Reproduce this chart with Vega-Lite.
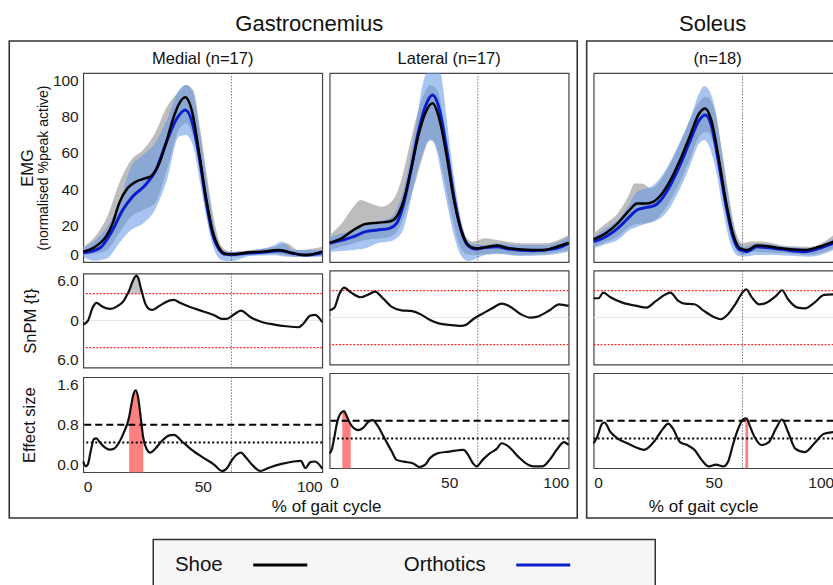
{
"$schema":"https://vega.github.io/schema/vega-lite/v6.json",
"background":"white",
"padding":{"left":9.25,"top":12,"right":0,"bottom":0},
"config":{"font":"Liberation Sans","view":{"stroke":"#444","strokeWidth":1.2,"fill":"white"},
"axis":{"labelFontSize":15.5,"labelColor":"#222","titleColor":"#111","titleFontWeight":"normal","ticks":false,"tickSize":0,"domain":false,"grid":false},
"title":{"fontWeight":"normal","color":"#111"}},
"datasets":{
"mean":[
{"m":"Medial","c":"Shoe","x":0,"y":5.7},{"m":"Medial","c":"Shoe","x":5,"y":8.4},{"m":"Medial","c":"Shoe","x":9.5,"y":13.9},{"m":"Medial","c":"Shoe","x":12.3,"y":21.2},{"m":"Medial","c":"Shoe","x":15,"y":32.2},{"m":"Medial","c":"Shoe","x":18.5,"y":40.5},{"m":"Medial","c":"Shoe","x":22,"y":44.1},{"m":"Medial","c":"Shoe","x":26,"y":46},{"m":"Medial","c":"Shoe","x":28.5,"y":47.3},{"m":"Medial","c":"Shoe","x":31.8,"y":54.2},{"m":"Medial","c":"Shoe","x":34.6,"y":65.2},{"m":"Medial","c":"Shoe","x":37.4,"y":78},{"m":"Medial","c":"Shoe","x":40.2,"y":87.2},{"m":"Medial","c":"Shoe","x":42.7,"y":90.5},{"m":"Medial","c":"Shoe","x":45.7,"y":81.7},{"m":"Medial","c":"Shoe","x":48.5,"y":59.7},{"m":"Medial","c":"Shoe","x":51.3,"y":35.9},{"m":"Medial","c":"Shoe","x":54,"y":17.6},{"m":"Medial","c":"Shoe","x":57,"y":7.5},{"m":"Medial","c":"Shoe","x":59.7,"y":4.4},{"m":"Medial","c":"Shoe","x":62.5,"y":4.2},{"m":"Medial","c":"Shoe","x":68,"y":5.1},{"m":"Medial","c":"Shoe","x":75,"y":5.7},{"m":"Medial","c":"Shoe","x":82,"y":6.6},{"m":"Medial","c":"Shoe","x":87.6,"y":4.8},{"m":"Medial","c":"Shoe","x":93,"y":3.8},{"m":"Medial","c":"Shoe","x":100,"y":5.7},
{"m":"Medial","c":"Orthotics","x":0,"y":5.1},{"m":"Medial","c":"Orthotics","x":6.7,"y":7.5},{"m":"Medial","c":"Orthotics","x":12.3,"y":17.6},{"m":"Medial","c":"Orthotics","x":16.5,"y":28.6},{"m":"Medial","c":"Orthotics","x":20.6,"y":35.9},{"m":"Medial","c":"Orthotics","x":26,"y":42.3},{"m":"Medial","c":"Orthotics","x":30.4,"y":50.5},{"m":"Medial","c":"Orthotics","x":34.6,"y":65.2},{"m":"Medial","c":"Orthotics","x":38.8,"y":78},{"m":"Medial","c":"Orthotics","x":42.7,"y":83.5},{"m":"Medial","c":"Orthotics","x":45.7,"y":76.2},{"m":"Medial","c":"Orthotics","x":48.5,"y":57.9},{"m":"Medial","c":"Orthotics","x":51.3,"y":34.1},{"m":"Medial","c":"Orthotics","x":54,"y":15.8},{"m":"Medial","c":"Orthotics","x":57,"y":6.6},{"m":"Medial","c":"Orthotics","x":59.7,"y":4.2},{"m":"Medial","c":"Orthotics","x":62.5,"y":4.2},{"m":"Medial","c":"Orthotics","x":68,"y":4.8},{"m":"Medial","c":"Orthotics","x":75,"y":5.3},{"m":"Medial","c":"Orthotics","x":82,"y":6.2},{"m":"Medial","c":"Orthotics","x":87.6,"y":4.8},{"m":"Medial","c":"Orthotics","x":93,"y":3.8},{"m":"Medial","c":"Orthotics","x":100,"y":5.1},
{"m":"Lateral","c":"Shoe","x":0,"y":10.6},{"m":"Lateral","c":"Shoe","x":5,"y":13},{"m":"Lateral","c":"Shoe","x":10,"y":17.6},{"m":"Lateral","c":"Shoe","x":15,"y":20.9},{"m":"Lateral","c":"Shoe","x":20,"y":21.6},{"m":"Lateral","c":"Shoe","x":25,"y":22.2},{"m":"Lateral","c":"Shoe","x":28,"y":24.9},{"m":"Lateral","c":"Shoe","x":31,"y":34.1},{"m":"Lateral","c":"Shoe","x":34,"y":50.5},{"m":"Lateral","c":"Shoe","x":37,"y":68.9},{"m":"Lateral","c":"Shoe","x":40,"y":81.7},{"m":"Lateral","c":"Shoe","x":43,"y":87.2},{"m":"Lateral","c":"Shoe","x":46,"y":78},{"m":"Lateral","c":"Shoe","x":49,"y":57.9},{"m":"Lateral","c":"Shoe","x":52,"y":34.1},{"m":"Lateral","c":"Shoe","x":55,"y":17.6},{"m":"Lateral","c":"Shoe","x":58,"y":9.3},{"m":"Lateral","c":"Shoe","x":61,"y":7.5},{"m":"Lateral","c":"Shoe","x":65,"y":8.1},{"m":"Lateral","c":"Shoe","x":70,"y":9},{"m":"Lateral","c":"Shoe","x":75,"y":7.5},{"m":"Lateral","c":"Shoe","x":85,"y":6.6},{"m":"Lateral","c":"Shoe","x":90,"y":6.6},{"m":"Lateral","c":"Shoe","x":95,"y":8.4},{"m":"Lateral","c":"Shoe","x":100,"y":10.6},
{"m":"Lateral","c":"Orthotics","x":0,"y":10.3},{"m":"Lateral","c":"Orthotics","x":10,"y":13.9},{"m":"Lateral","c":"Orthotics","x":15,"y":16.7},{"m":"Lateral","c":"Orthotics","x":20,"y":17.6},{"m":"Lateral","c":"Orthotics","x":25,"y":18.5},{"m":"Lateral","c":"Orthotics","x":28,"y":21.2},{"m":"Lateral","c":"Orthotics","x":31,"y":32.2},{"m":"Lateral","c":"Orthotics","x":34,"y":50.5},{"m":"Lateral","c":"Orthotics","x":37,"y":70.7},{"m":"Lateral","c":"Orthotics","x":40,"y":85.3},{"m":"Lateral","c":"Orthotics","x":43,"y":91.8},{"m":"Lateral","c":"Orthotics","x":46,"y":83.5},{"m":"Lateral","c":"Orthotics","x":49,"y":61.5},{"m":"Lateral","c":"Orthotics","x":52,"y":35.9},{"m":"Lateral","c":"Orthotics","x":55,"y":17.6},{"m":"Lateral","c":"Orthotics","x":58,"y":8.8},{"m":"Lateral","c":"Orthotics","x":61,"y":7.1},{"m":"Lateral","c":"Orthotics","x":65,"y":7.9},{"m":"Lateral","c":"Orthotics","x":70,"y":8.4},{"m":"Lateral","c":"Orthotics","x":75,"y":7.1},{"m":"Lateral","c":"Orthotics","x":85,"y":6.2},{"m":"Lateral","c":"Orthotics","x":95,"y":7.5},{"m":"Lateral","c":"Orthotics","x":100,"y":10.3},
{"m":"Soleus","c":"Shoe","x":0,"y":12.5},{"m":"Soleus","c":"Shoe","x":5,"y":15.8},{"m":"Soleus","c":"Shoe","x":10,"y":21.2},{"m":"Soleus","c":"Shoe","x":15,"y":28.6},{"m":"Soleus","c":"Shoe","x":18,"y":32.2},{"m":"Soleus","c":"Shoe","x":22,"y":32.2},{"m":"Soleus","c":"Shoe","x":25,"y":33.2},{"m":"Soleus","c":"Shoe","x":28,"y":36.8},{"m":"Soleus","c":"Shoe","x":32,"y":45},{"m":"Soleus","c":"Shoe","x":36,"y":56},{"m":"Soleus","c":"Shoe","x":40,"y":68.9},{"m":"Soleus","c":"Shoe","x":44,"y":81.7},{"m":"Soleus","c":"Shoe","x":46.5,"y":84.4},{"m":"Soleus","c":"Shoe","x":49,"y":78},{"m":"Soleus","c":"Shoe","x":52,"y":57.9},{"m":"Soleus","c":"Shoe","x":55,"y":34.1},{"m":"Soleus","c":"Shoe","x":58,"y":15.8},{"m":"Soleus","c":"Shoe","x":61,"y":7.5},{"m":"Soleus","c":"Shoe","x":64,"y":6.6},{"m":"Soleus","c":"Shoe","x":68,"y":9},{"m":"Soleus","c":"Shoe","x":72,"y":8.8},{"m":"Soleus","c":"Shoe","x":78,"y":7.5},{"m":"Soleus","c":"Shoe","x":88,"y":6.6},{"m":"Soleus","c":"Shoe","x":94,"y":8.4},{"m":"Soleus","c":"Shoe","x":100,"y":11.2},
{"m":"Soleus","c":"Orthotics","x":0,"y":11.2},{"m":"Soleus","c":"Orthotics","x":5,"y":13.9},{"m":"Soleus","c":"Orthotics","x":10,"y":18.5},{"m":"Soleus","c":"Orthotics","x":15,"y":24.9},{"m":"Soleus","c":"Orthotics","x":18,"y":28.6},{"m":"Soleus","c":"Orthotics","x":22,"y":30},{"m":"Soleus","c":"Orthotics","x":25,"y":30.8},{"m":"Soleus","c":"Orthotics","x":28,"y":34.1},{"m":"Soleus","c":"Orthotics","x":32,"y":42.3},{"m":"Soleus","c":"Orthotics","x":36,"y":53.3},{"m":"Soleus","c":"Orthotics","x":40,"y":66.1},{"m":"Soleus","c":"Orthotics","x":44,"y":78},{"m":"Soleus","c":"Orthotics","x":46.5,"y":80.8},{"m":"Soleus","c":"Orthotics","x":49,"y":75.3},{"m":"Soleus","c":"Orthotics","x":52,"y":55.1},{"m":"Soleus","c":"Orthotics","x":55,"y":32.2},{"m":"Soleus","c":"Orthotics","x":58,"y":13.9},{"m":"Soleus","c":"Orthotics","x":61,"y":6.6},{"m":"Soleus","c":"Orthotics","x":64,"y":5.7},{"m":"Soleus","c":"Orthotics","x":68,"y":8.4},{"m":"Soleus","c":"Orthotics","x":72,"y":7.9},{"m":"Soleus","c":"Orthotics","x":78,"y":7},{"m":"Soleus","c":"Orthotics","x":88,"y":5.7},{"m":"Soleus","c":"Orthotics","x":94,"y":7.5},{"m":"Soleus","c":"Orthotics","x":100,"y":10.3}
],
"band":[
{"m":"Medial","c":"Shoe","x":0,"lo":3.8,"hi":8.4},{"m":"Medial","c":"Shoe","x":5,"lo":4.5,"hi":14},{"m":"Medial","c":"Shoe","x":10,"lo":6.6,"hi":24.9},{"m":"Medial","c":"Shoe","x":15,"lo":15.8,"hi":43.2},{"m":"Medial","c":"Shoe","x":20,"lo":24.9,"hi":56},{"m":"Medial","c":"Shoe","x":25,"lo":28.6,"hi":61.5},{"m":"Medial","c":"Shoe","x":30,"lo":32.2,"hi":70.7},{"m":"Medial","c":"Shoe","x":35,"lo":50.5,"hi":85.3},{"m":"Medial","c":"Shoe","x":40,"lo":72.5,"hi":93.6},{"m":"Medial","c":"Shoe","x":43,"lo":76.2,"hi":97.3},{"m":"Medial","c":"Shoe","x":46,"lo":68.9,"hi":94.5},{"m":"Medial","c":"Shoe","x":49,"lo":51,"hi":72.5},{"m":"Medial","c":"Shoe","x":52,"lo":30.5,"hi":45},{"m":"Medial","c":"Shoe","x":55,"lo":13.3,"hi":21.2},{"m":"Medial","c":"Shoe","x":58,"lo":5.5,"hi":8.4},{"m":"Medial","c":"Shoe","x":62,"lo":2.8,"hi":5.7},{"m":"Medial","c":"Shoe","x":70,"lo":3.7,"hi":6.6},{"m":"Medial","c":"Shoe","x":80,"lo":4.4,"hi":8.4},{"m":"Medial","c":"Shoe","x":85,"lo":3.6,"hi":10.3},{"m":"Medial","c":"Shoe","x":90,"lo":2.9,"hi":6.6},{"m":"Medial","c":"Shoe","x":100,"lo":3.3,"hi":8.4},
{"m":"Medial","c":"Orthotics","x":0,"lo":2.6,"hi":7.5},{"m":"Medial","c":"Orthotics","x":5,"lo":0.7,"hi":12},{"m":"Medial","c":"Orthotics","x":10,"lo":2,"hi":19.4},{"m":"Medial","c":"Orthotics","x":15,"lo":10.3,"hi":32.2},{"m":"Medial","c":"Orthotics","x":20,"lo":17.6,"hi":52.4},{"m":"Medial","c":"Orthotics","x":25,"lo":21.2,"hi":58.8},{"m":"Medial","c":"Orthotics","x":30,"lo":28.6,"hi":65.2},{"m":"Medial","c":"Orthotics","x":35,"lo":45,"hi":78},{"m":"Medial","c":"Orthotics","x":40,"lo":68.9,"hi":94.5},{"m":"Medial","c":"Orthotics","x":43,"lo":69.8,"hi":97.3},{"m":"Medial","c":"Orthotics","x":46,"lo":63.4,"hi":92.7},{"m":"Medial","c":"Orthotics","x":49,"lo":42.7,"hi":68.9},{"m":"Medial","c":"Orthotics","x":52,"lo":21.2,"hi":41.4},{"m":"Medial","c":"Orthotics","x":55,"lo":6,"hi":17.6},{"m":"Medial","c":"Orthotics","x":58,"lo":1,"hi":6.6},{"m":"Medial","c":"Orthotics","x":62,"lo":0.5,"hi":5.3},{"m":"Medial","c":"Orthotics","x":70,"lo":3.3,"hi":6.2},{"m":"Medial","c":"Orthotics","x":80,"lo":3.7,"hi":9.3},{"m":"Medial","c":"Orthotics","x":83,"lo":3.2,"hi":11.2},{"m":"Medial","c":"Orthotics","x":88,"lo":2.8,"hi":6.6},{"m":"Medial","c":"Orthotics","x":100,"lo":2.9,"hi":6.6},
{"m":"Lateral","c":"Shoe","x":0,"lo":6.6,"hi":14.8},{"m":"Lateral","c":"Shoe","x":5,"lo":8.5,"hi":21.2},{"m":"Lateral","c":"Shoe","x":10,"lo":10.3,"hi":30.4},{"m":"Lateral","c":"Shoe","x":13,"lo":11.5,"hi":34.1},{"m":"Lateral","c":"Shoe","x":17,"lo":12.5,"hi":32.2},{"m":"Lateral","c":"Shoe","x":22,"lo":13,"hi":30.4},{"m":"Lateral","c":"Shoe","x":27,"lo":15,"hi":35},{"m":"Lateral","c":"Shoe","x":30,"lo":21.2,"hi":45},{"m":"Lateral","c":"Shoe","x":33,"lo":32,"hi":61.5},{"m":"Lateral","c":"Shoe","x":36,"lo":44.4,"hi":78},{"m":"Lateral","c":"Shoe","x":39,"lo":58,"hi":90.8},{"m":"Lateral","c":"Shoe","x":42,"lo":67,"hi":97.3},{"m":"Lateral","c":"Shoe","x":45,"lo":62,"hi":94.5},{"m":"Lateral","c":"Shoe","x":48,"lo":45,"hi":76.2},{"m":"Lateral","c":"Shoe","x":51,"lo":26,"hi":50.5},{"m":"Lateral","c":"Shoe","x":54,"lo":10.3,"hi":26.7},{"m":"Lateral","c":"Shoe","x":57,"lo":4.5,"hi":13.9},{"m":"Lateral","c":"Shoe","x":60,"lo":3.8,"hi":11.2},{"m":"Lateral","c":"Shoe","x":65,"lo":4.2,"hi":13},{"m":"Lateral","c":"Shoe","x":70,"lo":4.8,"hi":12.1},{"m":"Lateral","c":"Shoe","x":80,"lo":3.8,"hi":10.3},{"m":"Lateral","c":"Shoe","x":90,"lo":4.4,"hi":10.3},{"m":"Lateral","c":"Shoe","x":100,"lo":6.6,"hi":14.8},
{"m":"Lateral","c":"Orthotics","x":0,"lo":5.7,"hi":13.9},{"m":"Lateral","c":"Orthotics","x":10,"lo":6.6,"hi":17.6},{"m":"Lateral","c":"Orthotics","x":15,"lo":7.5,"hi":20},{"m":"Lateral","c":"Orthotics","x":20,"lo":10.3,"hi":22.2},{"m":"Lateral","c":"Orthotics","x":25,"lo":11.2,"hi":24},{"m":"Lateral","c":"Orthotics","x":30,"lo":15.8,"hi":35.9},{"m":"Lateral","c":"Orthotics","x":33,"lo":28.6,"hi":52.4},{"m":"Lateral","c":"Orthotics","x":36,"lo":46.9,"hi":74.4},{"m":"Lateral","c":"Orthotics","x":39,"lo":60,"hi":98.2},{"m":"Lateral","c":"Orthotics","x":41,"lo":66,"hi":106},{"m":"Lateral","c":"Orthotics","x":43,"lo":67,"hi":112},{"m":"Lateral","c":"Orthotics","x":45,"lo":59.7,"hi":110},{"m":"Lateral","c":"Orthotics","x":47,"lo":46,"hi":100},{"m":"Lateral","c":"Orthotics","x":49,"lo":33,"hi":78},{"m":"Lateral","c":"Orthotics","x":52,"lo":14.5,"hi":46.9},{"m":"Lateral","c":"Orthotics","x":55,"lo":3.5,"hi":23.1},{"m":"Lateral","c":"Orthotics","x":58,"lo":0.5,"hi":11.2},{"m":"Lateral","c":"Orthotics","x":60,"lo":1.1,"hi":10},{"m":"Lateral","c":"Orthotics","x":65,"lo":3.8,"hi":9.3},{"m":"Lateral","c":"Orthotics","x":70,"lo":4.4,"hi":10.3},{"m":"Lateral","c":"Orthotics","x":80,"lo":3.3,"hi":9.3},{"m":"Lateral","c":"Orthotics","x":90,"lo":3.7,"hi":9.3},{"m":"Lateral","c":"Orthotics","x":100,"lo":5.7,"hi":13.9},
{"m":"Soleus","c":"Shoe","x":0,"lo":8.4,"hi":15.8},{"m":"Soleus","c":"Shoe","x":5,"lo":11,"hi":21},{"m":"Soleus","c":"Shoe","x":10,"lo":13.9,"hi":26.7},{"m":"Soleus","c":"Shoe","x":15,"lo":19.4,"hi":37.7},{"m":"Soleus","c":"Shoe","x":17,"lo":20.5,"hi":43.2},{"m":"Soleus","c":"Shoe","x":20,"lo":21.2,"hi":43.2},{"m":"Soleus","c":"Shoe","x":24,"lo":22,"hi":40.5},{"m":"Soleus","c":"Shoe","x":28,"lo":26,"hi":45},{"m":"Soleus","c":"Shoe","x":32,"lo":34,"hi":54.2},{"m":"Soleus","c":"Shoe","x":36,"lo":44,"hi":65.2},{"m":"Soleus","c":"Shoe","x":40,"lo":56,"hi":78},{"m":"Soleus","c":"Shoe","x":44,"lo":68.9,"hi":88.1},{"m":"Soleus","c":"Shoe","x":47,"lo":71.6,"hi":90.8},{"m":"Soleus","c":"Shoe","x":50,"lo":65.2,"hi":85.3},{"m":"Soleus","c":"Shoe","x":53,"lo":46.9,"hi":65.2},{"m":"Soleus","c":"Shoe","x":56,"lo":23.1,"hi":39.6},{"m":"Soleus","c":"Shoe","x":59,"lo":7.5,"hi":17.6},{"m":"Soleus","c":"Shoe","x":62,"lo":3.8,"hi":10.3},{"m":"Soleus","c":"Shoe","x":66,"lo":5.7,"hi":11.2},{"m":"Soleus","c":"Shoe","x":70,"lo":5.4,"hi":11.2},{"m":"Soleus","c":"Shoe","x":80,"lo":4.8,"hi":8.8},{"m":"Soleus","c":"Shoe","x":90,"lo":3.8,"hi":8.4},{"m":"Soleus","c":"Shoe","x":100,"lo":7.5,"hi":14.8},
{"m":"Soleus","c":"Orthotics","x":0,"lo":7.5,"hi":13.9},{"m":"Soleus","c":"Orthotics","x":5,"lo":9.8,"hi":18.5},{"m":"Soleus","c":"Orthotics","x":10,"lo":12.1,"hi":23.1},{"m":"Soleus","c":"Orthotics","x":15,"lo":17.6,"hi":32.2},{"m":"Soleus","c":"Orthotics","x":18,"lo":19.2,"hi":38.6},{"m":"Soleus","c":"Orthotics","x":22,"lo":21,"hi":40.5},{"m":"Soleus","c":"Orthotics","x":25,"lo":22.2,"hi":42.3},{"m":"Soleus","c":"Orthotics","x":30,"lo":26.7,"hi":50.5},{"m":"Soleus","c":"Orthotics","x":35,"lo":37.7,"hi":63.4},{"m":"Soleus","c":"Orthotics","x":40,"lo":52.4,"hi":78},{"m":"Soleus","c":"Orthotics","x":44,"lo":65.2,"hi":92.7},{"m":"Soleus","c":"Orthotics","x":46,"lo":67,"hi":96.7},{"m":"Soleus","c":"Orthotics","x":48,"lo":64,"hi":94.5},{"m":"Soleus","c":"Orthotics","x":51,"lo":50,"hi":81.7},{"m":"Soleus","c":"Orthotics","x":54,"lo":28,"hi":54.2},{"m":"Soleus","c":"Orthotics","x":57,"lo":10,"hi":28.6},{"m":"Soleus","c":"Orthotics","x":60,"lo":3.5,"hi":12.1},{"m":"Soleus","c":"Orthotics","x":63,"lo":3,"hi":8.4},{"m":"Soleus","c":"Orthotics","x":68,"lo":3.8,"hi":10.3},{"m":"Soleus","c":"Orthotics","x":80,"lo":3.6,"hi":8.4},{"m":"Soleus","c":"Orthotics","x":90,"lo":2.9,"hi":7.5},{"m":"Soleus","c":"Orthotics","x":100,"lo":6.6,"hi":13}
],
"snpm":[
{"m":"Medial","x":0,"t":-0.51},{"m":"Medial","x":2,"t":0},{"m":"Medial","x":4,"t":1.7},{"m":"Medial","x":5.5,"t":2.26},{"m":"Medial","x":8,"t":1.79},{"m":"Medial","x":11,"t":1.49},{"m":"Medial","x":14,"t":1.79},{"m":"Medial","x":17,"t":2.55},{"m":"Medial","x":18.6,"t":3.45,"s":1},{"m":"Medial","x":19.5,"t":4.04,"s":1},{"m":"Medial","x":20.5,"t":4.9,"s":1},{"m":"Medial","x":21.5,"t":5.53,"s":1},{"m":"Medial","x":22.3,"t":5.74,"s":1},{"m":"Medial","x":23,"t":5.45,"s":1},{"m":"Medial","x":24,"t":4.26,"s":1},{"m":"Medial","x":24.7,"t":3.45,"s":1},{"m":"Medial","x":26,"t":2.13},{"m":"Medial","x":27.5,"t":1.49},{"m":"Medial","x":29,"t":1.36},{"m":"Medial","x":32,"t":1.91},{"m":"Medial","x":36,"t":2.55},{"m":"Medial","x":38,"t":2.64},{"m":"Medial","x":40,"t":2.34},{"m":"Medial","x":45,"t":1.7},{"m":"Medial","x":50,"t":1.19},{"m":"Medial","x":55,"t":0.64},{"m":"Medial","x":58,"t":0.21},{"m":"Medial","x":60,"t":0.21},{"m":"Medial","x":63,"t":0.77},{"m":"Medial","x":66,"t":1.28},{"m":"Medial","x":70,"t":0.43},{"m":"Medial","x":75,"t":-0.21},{"m":"Medial","x":80,"t":-0.51},{"m":"Medial","x":85,"t":-0.72},{"m":"Medial","x":90,"t":-0.85},{"m":"Medial","x":92,"t":-0.43},{"m":"Medial","x":95,"t":0.64},{"m":"Medial","x":97,"t":0.72},{"m":"Medial","x":100,"t":-0.21},
{"m":"Lateral","x":0,"t":0.93},{"m":"Lateral","x":2,"t":1.27},{"m":"Lateral","x":4,"t":2.98},{"m":"Lateral","x":6,"t":3.83},{"m":"Lateral","x":9,"t":3.19},{"m":"Lateral","x":13,"t":2.6},{"m":"Lateral","x":17,"t":3.06},{"m":"Lateral","x":19,"t":3.32},{"m":"Lateral","x":22,"t":2.55},{"m":"Lateral","x":26,"t":1.36},{"m":"Lateral","x":30,"t":0.93},{"m":"Lateral","x":34,"t":0.85},{"m":"Lateral","x":38,"t":0.43},{"m":"Lateral","x":42,"t":-0.3},{"m":"Lateral","x":46,"t":-0.77},{"m":"Lateral","x":50,"t":-0.93},{"m":"Lateral","x":55,"t":-1.05},{"m":"Lateral","x":57,"t":-0.93},{"m":"Lateral","x":60,"t":-0.21},{"m":"Lateral","x":64,"t":0.51},{"m":"Lateral","x":68,"t":1.19},{"m":"Lateral","x":72,"t":1.79},{"m":"Lateral","x":75,"t":1.49},{"m":"Lateral","x":80,"t":0.43},{"m":"Lateral","x":84,"t":0},{"m":"Lateral","x":87,"t":0.13},{"m":"Lateral","x":92,"t":0.93},{"m":"Lateral","x":96,"t":1.7},{"m":"Lateral","x":100,"t":1.49},
{"m":"Soleus","x":0,"t":2.47},{"m":"Soleus","x":2,"t":2.47},{"m":"Soleus","x":4,"t":3.19},{"m":"Soleus","x":7,"t":2.6},{"m":"Soleus","x":12,"t":1.91},{"m":"Soleus","x":18,"t":1.49},{"m":"Soleus","x":22,"t":1.27},{"m":"Soleus","x":26,"t":2.13},{"m":"Soleus","x":30,"t":2.98},{"m":"Soleus","x":32,"t":3.19},{"m":"Soleus","x":35,"t":2.21},{"m":"Soleus","x":38,"t":1.79},{"m":"Soleus","x":42,"t":1.7},{"m":"Soleus","x":46,"t":0.85},{"m":"Soleus","x":50,"t":0.09},{"m":"Soleus","x":53,"t":-0.21},{"m":"Soleus","x":56,"t":0.43},{"m":"Soleus","x":59,"t":1.7},{"m":"Soleus","x":62,"t":3.19},{"m":"Soleus","x":63.5,"t":3.62},{"m":"Soleus","x":66,"t":2.55},{"m":"Soleus","x":69,"t":1.7},{"m":"Soleus","x":72,"t":1.91},{"m":"Soleus","x":76,"t":2.77},{"m":"Soleus","x":78.5,"t":3.49},{"m":"Soleus","x":81,"t":2.34},{"m":"Soleus","x":85,"t":1.27},{"m":"Soleus","x":88,"t":1.19},{"m":"Soleus","x":92,"t":1.91},{"m":"Soleus","x":96,"t":2.89},{"m":"Soleus","x":100,"t":2.98}
],
"es":[
{"m":"Medial","x":0,"e":0.18},{"m":"Medial","x":1,"e":0.1},{"m":"Medial","x":2,"e":0.14},{"m":"Medial","x":3,"e":0.33},{"m":"Medial","x":4.5,"e":0.56},{"m":"Medial","x":5.5,"e":0.57},{"m":"Medial","x":7,"e":0.5},{"m":"Medial","x":9,"e":0.42},{"m":"Medial","x":11,"e":0.38},{"m":"Medial","x":13,"e":0.4},{"m":"Medial","x":15,"e":0.5},{"m":"Medial","x":17,"e":0.67},{"m":"Medial","x":19.2,"e":0.93,"s":1},{"m":"Medial","x":20,"e":1.11,"s":1},{"m":"Medial","x":21,"e":1.31,"s":1},{"m":"Medial","x":22,"e":1.38,"s":1},{"m":"Medial","x":23,"e":1.25,"s":1},{"m":"Medial","x":24,"e":0.94,"s":1},{"m":"Medial","x":25.1,"e":0.58,"s":1},{"m":"Medial","x":26.5,"e":0.39},{"m":"Medial","x":28,"e":0.33},{"m":"Medial","x":30,"e":0.39},{"m":"Medial","x":33,"e":0.53},{"m":"Medial","x":36,"e":0.62},{"m":"Medial","x":38,"e":0.63},{"m":"Medial","x":41,"e":0.53},{"m":"Medial","x":45,"e":0.39},{"m":"Medial","x":50,"e":0.25},{"m":"Medial","x":55,"e":0.12},{"m":"Medial","x":58,"e":0.02},{"m":"Medial","x":60,"e":0.06},{"m":"Medial","x":62,"e":0.19},{"m":"Medial","x":64,"e":0.29},{"m":"Medial","x":66,"e":0.33},{"m":"Medial","x":68,"e":0.25},{"m":"Medial","x":71,"e":0.11},{"m":"Medial","x":74,"e":0.02},{"m":"Medial","x":78,"e":0.08},{"m":"Medial","x":83,"e":0.14},{"m":"Medial","x":88,"e":0.18},{"m":"Medial","x":91,"e":0.19},{"m":"Medial","x":93,"e":0.07},{"m":"Medial","x":95,"e":0.17},{"m":"Medial","x":97,"e":0.18},{"m":"Medial","x":100,"e":0.06},
{"m":"Lateral","x":0,"e":0.25},{"m":"Lateral","x":1,"e":0.33},{"m":"Lateral","x":2,"e":0.53},{"m":"Lateral","x":3,"e":0.75},{"m":"Lateral","x":4.5,"e":0.92},{"m":"Lateral","x":5.3,"e":0.95,"s":1},{"m":"Lateral","x":6,"e":0.96,"s":1},{"m":"Lateral","x":7,"e":0.89,"s":1},{"m":"Lateral","x":8,"e":0.8,"s":1},{"m":"Lateral","x":8.8,"e":0.74,"s":1},{"m":"Lateral","x":9.5,"e":0.7},{"m":"Lateral","x":12,"e":0.64},{"m":"Lateral","x":14,"e":0.68},{"m":"Lateral","x":16.5,"e":0.79},{"m":"Lateral","x":18,"e":0.81},{"m":"Lateral","x":20,"e":0.72},{"m":"Lateral","x":23,"e":0.5},{"m":"Lateral","x":26,"e":0.28},{"m":"Lateral","x":28,"e":0.14},{"m":"Lateral","x":31,"e":0.11},{"m":"Lateral","x":35,"e":0.08},{"m":"Lateral","x":37.5,"e":0.02},{"m":"Lateral","x":40,"e":0.06},{"m":"Lateral","x":42,"e":0.17},{"m":"Lateral","x":45,"e":0.25},{"m":"Lateral","x":50,"e":0.28},{"m":"Lateral","x":56,"e":0.31},{"m":"Lateral","x":58,"e":0.22},{"m":"Lateral","x":60,"e":0.08},{"m":"Lateral","x":61.5,"e":0.03},{"m":"Lateral","x":64,"e":0.14},{"m":"Lateral","x":67,"e":0.25},{"m":"Lateral","x":70,"e":0.33},{"m":"Lateral","x":72,"e":0.42},{"m":"Lateral","x":75,"e":0.36},{"m":"Lateral","x":79,"e":0.19},{"m":"Lateral","x":83,"e":0.06},{"m":"Lateral","x":86,"e":0.03},{"m":"Lateral","x":89,"e":0.03},{"m":"Lateral","x":92,"e":0.14},{"m":"Lateral","x":95,"e":0.31},{"m":"Lateral","x":98,"e":0.44},{"m":"Lateral","x":100,"e":0.39},
{"m":"Soleus","x":0,"e":0.42},{"m":"Soleus","x":1.5,"e":0.53},{"m":"Soleus","x":3.5,"e":0.75},{"m":"Soleus","x":4.5,"e":0.77},{"m":"Soleus","x":7,"e":0.61},{"m":"Soleus","x":10,"e":0.5},{"m":"Soleus","x":14,"e":0.42},{"m":"Soleus","x":19,"e":0.33},{"m":"Soleus","x":21,"e":0.31},{"m":"Soleus","x":25,"e":0.44},{"m":"Soleus","x":29,"e":0.67},{"m":"Soleus","x":31,"e":0.75},{"m":"Soleus","x":33,"e":0.67},{"m":"Soleus","x":36,"e":0.44},{"m":"Soleus","x":39,"e":0.39},{"m":"Soleus","x":42,"e":0.31},{"m":"Soleus","x":45,"e":0.14},{"m":"Soleus","x":48,"e":0.03},{"m":"Soleus","x":51,"e":0.06},{"m":"Soleus","x":54,"e":0.03},{"m":"Soleus","x":56,"e":0.11},{"m":"Soleus","x":58,"e":0.39},{"m":"Soleus","x":60,"e":0.64},{"m":"Soleus","x":62,"e":0.81},{"m":"Soleus","x":63.2,"e":0.84,"s":1},{"m":"Soleus","x":63.8,"e":0.83,"s":1},{"m":"Soleus","x":64.4,"e":0.79,"s":1},{"m":"Soleus","x":65,"e":0.72},{"m":"Soleus","x":67,"e":0.53},{"m":"Soleus","x":70,"e":0.39},{"m":"Soleus","x":73,"e":0.44},{"m":"Soleus","x":76,"e":0.67},{"m":"Soleus","x":78.5,"e":0.82},{"m":"Soleus","x":81,"e":0.61},{"m":"Soleus","x":84,"e":0.33},{"m":"Soleus","x":88,"e":0.27},{"m":"Soleus","x":92,"e":0.42},{"m":"Soleus","x":96,"e":0.58},{"m":"Soleus","x":100,"e":0.61}
],
"legend":[{"s":"Shoe"},{"s":"Orthotics"}],
"frame":[{"k":0},{"k":1}],
"one":[{"k":0}]
},
"spacing":19.6,
"vconcat":[
{"spacing":7.4,"resolve":{"scale":{"color":"independent"}},"hconcat":[
 {"title":{"text":"Gastrocnemius","fontSize":22,"anchor":"middle","baseline":"alphabetic","offset":-11.5,"dx":15},
  "spacing":-58.6,"hconcat":[
  {"spacing":6.6,"vconcat":[
    {"width":239,"height":189,"title":{"text":"Medial (n=17)","fontSize":16.5,"offset":-7.5,"baseline":"alphabetic","frame":"group"},
     "resolve":{"axis":{"y":"independent"}},
     "layer":[
      {"data":{"name":"band"},"transform":[{"filter":"datum.m==='Medial'&&datum.c==='Shoe'"}],"mark":{"type":"area","color":"#bdbdbd","interpolate":"monotone","clip":true},
       "encoding":{"x":{"field":"x","type":"quantitative","scale":{"domain":[0,100],"nice":false},"axis":null},"y":{"field":"lo","type":"quantitative","scale":{"domain":[0,103.85],"nice":false},"axis":{"orient":"left","values":[0,20,40,60,80,100],"labelFlush":true,"labelPadding":5,"title":"(normalised %peak active)","titleFontSize":14,"titlePadding":2}},"y2":{"field":"hi"}}},
      {"data":{"name":"band"},"transform":[{"filter":"datum.m==='Medial'&&datum.c==='Orthotics'"}],"mark":{"type":"area","color":"#6698e5","opacity":0.57,"interpolate":"monotone","clip":true},
       "encoding":{"x":{"field":"x","type":"quantitative","scale":{"domain":[0,100],"nice":false},"axis":null},"y":{"field":"lo","type":"quantitative","scale":{"domain":[0,103.85],"nice":false},"axis":{"orient":"left","labels":false,"title":"EMG","titleFontSize":16.5,"titlePadding":48}},"y2":{"field":"hi"}}},
      {"data":{"name":"one"},"mark":{"type":"rule","color":"#555","strokeWidth":0.8,"strokeDash":[1.5,1.5]},"encoding":{"x":{"datum":62,"type":"quantitative","scale":{"domain":[0,100],"nice":false},"axis":null}}},
      {"data":{"name":"mean"},"transform":[{"filter":"datum.m==='Medial'&&datum.c==='Orthotics'"}],"mark":{"type":"line","color":"#0a1fcc","strokeWidth":3,"interpolate":"monotone"},
       "encoding":{"x":{"field":"x","type":"quantitative","scale":{"domain":[0,100],"nice":false},"axis":null},"y":{"field":"y","type":"quantitative","scale":{"domain":[0,103.85],"nice":false},"axis":null}}},
      {"data":{"name":"mean"},"transform":[{"filter":"datum.m==='Medial'&&datum.c==='Shoe'"}],"mark":{"type":"line","color":"#000","strokeWidth":2.5,"interpolate":"monotone"},
       "encoding":{"x":{"field":"x","type":"quantitative","scale":{"domain":[0,100],"nice":false},"axis":null},"y":{"field":"y","type":"quantitative","scale":{"domain":[0,103.85],"nice":false},"axis":null}}}
     ]},
    {"width":239,"height":94,"resolve":{"axis":{"x":"independent","y":"independent"}},
     "layer":[
      {"data":{"name":"one"},"mark":{"type":"rule","color":"#e6e6e6","strokeWidth":1},"encoding":{"y":{"datum":0,"type":"quantitative","scale":{"domain":[-6,6],"nice":false},"axis":null}}},
      {"data":{"name":"snpm"},"transform":[{"filter":"datum.m==='Medial'&&datum.s===1"}],"mark":{"type":"area","color":"#c4c4c4","interpolate":"monotone"},
       "encoding":{"x":{"field":"x","type":"quantitative","scale":{"domain":[0,100],"nice":false},"axis":null},"y":{"field":"t","type":"quantitative","scale":{"domain":[-6,6],"nice":false},"axis":null},"y2":{"datum":3.45}}},
      {"data":{"name":"one"},"mark":{"type":"rule","color":"#ff2a2a","strokeWidth":1.1,"strokeDash":[2,1.5]},"encoding":{"y":{"datum":3.45,"type":"quantitative","scale":{"domain":[-6,6],"nice":false},"axis":null}}},
      {"data":{"name":"one"},"mark":{"type":"rule","color":"#ff2a2a","strokeWidth":1.1,"strokeDash":[2,1.5]},"encoding":{"y":{"datum":-3.45,"type":"quantitative","scale":{"domain":[-6,6],"nice":false},"axis":null}}},
      {"data":{"name":"one"},"mark":{"type":"rule","color":"#555","strokeWidth":0.8,"strokeDash":[1.5,1.5]},"encoding":{"x":{"datum":62,"type":"quantitative","scale":{"domain":[0,100],"nice":false},"axis":null}}},
      {"data":{"name":"snpm"},"transform":[{"filter":"datum.m==='Medial'"}],"mark":{"type":"line","color":"#111","strokeWidth":2.2,"interpolate":"monotone"},
       "encoding":{"x":{"field":"x","type":"quantitative","scale":{"domain":[0,100],"nice":false},"axis":null},"y":{"field":"t","type":"quantitative","scale":{"domain":[-6,6],"nice":false},"axis":{"values":[-6,0,6],"labelFlush":true,"labelPadding":5,"labelExpr":"datum.value === 0 ? '0' : format(abs(datum.value), '.1f')","title":"SnPM {t}","titleFontSize":16.5,"titlePadding":18}}}}
     ]},
    {"width":239,"height":95,"resolve":{"axis":{"x":"independent","y":"independent"}},
     "layer":[
      {"data":{"name":"es"},"transform":[{"filter":"datum.m==='Medial'&&datum.s===1"}],"mark":{"type":"area","color":"#ff8080","interpolate":"monotone"},
       "encoding":{"x":{"field":"x","type":"quantitative","scale":{"domain":[0,100],"nice":false},"axis":null},"y":{"field":"e","type":"quantitative","scale":{"domain":[0,1.6],"nice":false},"axis":null}}},
      {"data":{"name":"one"},"mark":{"type":"rule","color":"#000","strokeWidth":2,"strokeDash":[7,4]},"encoding":{"y":{"datum":0.8,"type":"quantitative","scale":{"domain":[0,1.6],"nice":false},"axis":null}}},
      {"data":{"name":"one"},"mark":{"type":"rule","color":"#000","strokeWidth":2,"strokeDash":[2,2.5]},"encoding":{"y":{"datum":0.5,"type":"quantitative","scale":{"domain":[0,1.6],"nice":false},"axis":null}}},
      {"data":{"name":"one"},"mark":{"type":"rule","color":"#555","strokeWidth":0.8,"strokeDash":[1.5,1.5]},"encoding":{"x":{"datum":62,"type":"quantitative","scale":{"domain":[0,100],"nice":false},"axis":null}}},
      {"data":{"name":"es"},"transform":[{"filter":"datum.m==='Medial'"}],"mark":{"type":"line","color":"#111","strokeWidth":2.2,"interpolate":"monotone"},
       "encoding":{"x":{"field":"x","type":"quantitative","scale":{"domain":[0,100],"nice":false},"axis":{"values":[0,50,100],"labelFlush":true,"labelPadding":7,"title":null}},"y":{"field":"e","type":"quantitative","scale":{"domain":[0,1.6],"nice":false},"axis":{"values":[0,0.8,1.6],"format":".1f","labelFlush":true,"labelPadding":5,"title":"Effect size","titleFontSize":16.5,"titlePadding":19}}}}
     ]}
  ]},
  {"spacing":6.6,"vconcat":[
    {"width":239,"height":189,"title":{"text":"Lateral (n=17)","fontSize":16.5,"offset":-7.5,"baseline":"alphabetic","frame":"group"},
     "layer":[
      {"data":{"name":"frame"},"mark":{"type":"square","opacity":0,"filled":true},
       "encoding":{"color":{"field":"k","type":"quantitative","scale":{"domain":[0,1],"range":["rgba(255,255,255,0)","rgba(255,255,255,0)"]},
         "legend":{"type":"gradient","direction":"vertical","orient":"none","legendX":-74,"legendY":-32,"gradientLength":477,"gradientThickness":568,"gradientStrokeColor":"#333","gradientStrokeWidth":1.6,"title":null,"labelOpacity":0,"labelFontSize":1,"labelOffset":0,"padding":0}}}},
      {"data":{"name":"band"},"transform":[{"filter":"datum.m==='Lateral'&&datum.c==='Shoe'"}],"mark":{"type":"area","color":"#bdbdbd","interpolate":"monotone","clip":true},
       "encoding":{"x":{"field":"x","type":"quantitative","scale":{"domain":[0,100],"nice":false},"axis":null},"y":{"field":"lo","type":"quantitative","scale":{"domain":[0,103.85],"nice":false},"axis":null},"y2":{"field":"hi"}}},
      {"data":{"name":"band"},"transform":[{"filter":"datum.m==='Lateral'&&datum.c==='Orthotics'"}],"mark":{"type":"area","color":"#6698e5","opacity":0.57,"interpolate":"monotone","clip":true},
       "encoding":{"x":{"field":"x","type":"quantitative","scale":{"domain":[0,100],"nice":false},"axis":null},"y":{"field":"lo","type":"quantitative","scale":{"domain":[0,103.85],"nice":false},"axis":null},"y2":{"field":"hi"}}},
      {"data":{"name":"one"},"mark":{"type":"rule","color":"#555","strokeWidth":0.8,"strokeDash":[1.5,1.5]},"encoding":{"x":{"datum":62,"type":"quantitative","scale":{"domain":[0,100],"nice":false},"axis":null}}},
      {"data":{"name":"mean"},"transform":[{"filter":"datum.m==='Lateral'&&datum.c==='Orthotics'"}],"mark":{"type":"line","color":"#0a1fcc","strokeWidth":3,"interpolate":"monotone"},
       "encoding":{"x":{"field":"x","type":"quantitative","scale":{"domain":[0,100],"nice":false},"axis":null},"y":{"field":"y","type":"quantitative","scale":{"domain":[0,103.85],"nice":false},"axis":null}}},
      {"data":{"name":"mean"},"transform":[{"filter":"datum.m==='Lateral'&&datum.c==='Shoe'"}],"mark":{"type":"line","color":"#000","strokeWidth":2.5,"interpolate":"monotone"},
       "encoding":{"x":{"field":"x","type":"quantitative","scale":{"domain":[0,100],"nice":false},"axis":null},"y":{"field":"y","type":"quantitative","scale":{"domain":[0,103.85],"nice":false},"axis":null}}}
     ]},
    {"width":239,"height":94,
     "layer":[
      {"data":{"name":"one"},"mark":{"type":"rule","color":"#e6e6e6","strokeWidth":1},"encoding":{"y":{"datum":0,"type":"quantitative","scale":{"domain":[-6,6],"nice":false},"axis":null}}},
      {"data":{"name":"one"},"mark":{"type":"rule","color":"#ff2a2a","strokeWidth":1.1,"strokeDash":[2,1.5]},"encoding":{"y":{"datum":3.45,"type":"quantitative","scale":{"domain":[-6,6],"nice":false},"axis":null}}},
      {"data":{"name":"one"},"mark":{"type":"rule","color":"#ff2a2a","strokeWidth":1.1,"strokeDash":[2,1.5]},"encoding":{"y":{"datum":-3.45,"type":"quantitative","scale":{"domain":[-6,6],"nice":false},"axis":null}}},
      {"data":{"name":"one"},"mark":{"type":"rule","color":"#555","strokeWidth":0.8,"strokeDash":[1.5,1.5]},"encoding":{"x":{"datum":62,"type":"quantitative","scale":{"domain":[0,100],"nice":false},"axis":null}}},
      {"data":{"name":"snpm"},"transform":[{"filter":"datum.m==='Lateral'"}],"mark":{"type":"line","color":"#111","strokeWidth":2.2,"interpolate":"monotone"},
       "encoding":{"x":{"field":"x","type":"quantitative","scale":{"domain":[0,100],"nice":false},"axis":null},"y":{"field":"t","type":"quantitative","scale":{"domain":[-6,6],"nice":false},"axis":null}}}
     ]},
    {"width":239,"height":95,"resolve":{"axis":{"x":"independent"}},"title":{"text":"% of gait cycle","orient":"bottom","fontSize":17,"offset":8,"frame":"group","anchor":"middle","dx":-122.5},
     "layer":[
      {"data":{"name":"es"},"transform":[{"filter":"datum.m==='Lateral'&&datum.s===1"}],"mark":{"type":"area","color":"#ff8080","interpolate":"monotone"},
       "encoding":{"x":{"field":"x","type":"quantitative","scale":{"domain":[0,100],"nice":false},"axis":null},"y":{"field":"e","type":"quantitative","scale":{"domain":[0,1.6],"nice":false},"axis":null}}},
      {"data":{"name":"one"},"mark":{"type":"rule","color":"#000","strokeWidth":2,"strokeDash":[7,4]},"encoding":{"y":{"datum":0.8,"type":"quantitative","scale":{"domain":[0,1.6],"nice":false},"axis":null}}},
      {"data":{"name":"one"},"mark":{"type":"rule","color":"#000","strokeWidth":2,"strokeDash":[2,2.5]},"encoding":{"y":{"datum":0.5,"type":"quantitative","scale":{"domain":[0,1.6],"nice":false},"axis":null}}},
      {"data":{"name":"one"},"mark":{"type":"rule","color":"#555","strokeWidth":0.8,"strokeDash":[1.5,1.5]},"encoding":{"x":{"datum":62,"type":"quantitative","scale":{"domain":[0,100],"nice":false},"axis":null}}},
      {"data":{"name":"es"},"transform":[{"filter":"datum.m==='Lateral'"}],"mark":{"type":"line","color":"#111","strokeWidth":2.2,"interpolate":"monotone"},
       "encoding":{"x":{"field":"x","type":"quantitative","scale":{"domain":[0,100],"nice":false},"axis":{"values":[0,50,100],"labelFlush":true,"labelPadding":7,"title":null}},"y":{"field":"e","type":"quantitative","scale":{"domain":[0,1.6],"nice":false},"axis":null}}}
     ]}
  ]}
 ]},
 {"title":{"text":"Soleus","fontSize":22,"anchor":"middle","baseline":"alphabetic","offset":-11.5,"dx":-3},
  "spacing":6.6,"vconcat":[
    {"width":240,"height":189,"title":{"text":"(n=18)","fontSize":16.5,"offset":-7.5,"baseline":"alphabetic","frame":"group","dx":4},
     "layer":[
      {"data":{"name":"frame"},"mark":{"type":"square","opacity":0,"filled":true},
       "encoding":{"color":{"field":"k","type":"quantitative","scale":{"domain":[0,1],"range":["rgba(255,255,255,0)","rgba(255,255,255,0)"]},
         "legend":{"type":"gradient","direction":"vertical","orient":"none","legendX":-7,"legendY":-32,"gradientLength":477,"gradientThickness":256,"gradientStrokeColor":"#333","gradientStrokeWidth":1.6,"title":null,"labelOpacity":0,"labelFontSize":1,"labelOffset":0,"padding":0}}}},
      {"data":{"name":"band"},"transform":[{"filter":"datum.m==='Soleus'&&datum.c==='Shoe'"}],"mark":{"type":"area","color":"#bdbdbd","interpolate":"monotone","clip":true},
       "encoding":{"x":{"field":"x","type":"quantitative","scale":{"domain":[0,100],"nice":false},"axis":null},"y":{"field":"lo","type":"quantitative","scale":{"domain":[0,103.85],"nice":false},"axis":null},"y2":{"field":"hi"}}},
      {"data":{"name":"band"},"transform":[{"filter":"datum.m==='Soleus'&&datum.c==='Orthotics'"}],"mark":{"type":"area","color":"#6698e5","opacity":0.57,"interpolate":"monotone","clip":true},
       "encoding":{"x":{"field":"x","type":"quantitative","scale":{"domain":[0,100],"nice":false},"axis":null},"y":{"field":"lo","type":"quantitative","scale":{"domain":[0,103.85],"nice":false},"axis":null},"y2":{"field":"hi"}}},
      {"data":{"name":"one"},"mark":{"type":"rule","color":"#555","strokeWidth":0.8,"strokeDash":[1.5,1.5]},"encoding":{"x":{"datum":62,"type":"quantitative","scale":{"domain":[0,100],"nice":false},"axis":null}}},
      {"data":{"name":"mean"},"transform":[{"filter":"datum.m==='Soleus'&&datum.c==='Orthotics'"}],"mark":{"type":"line","color":"#0a1fcc","strokeWidth":3,"interpolate":"monotone"},
       "encoding":{"x":{"field":"x","type":"quantitative","scale":{"domain":[0,100],"nice":false},"axis":null},"y":{"field":"y","type":"quantitative","scale":{"domain":[0,103.85],"nice":false},"axis":null}}},
      {"data":{"name":"mean"},"transform":[{"filter":"datum.m==='Soleus'&&datum.c==='Shoe'"}],"mark":{"type":"line","color":"#000","strokeWidth":2.5,"interpolate":"monotone"},
       "encoding":{"x":{"field":"x","type":"quantitative","scale":{"domain":[0,100],"nice":false},"axis":null},"y":{"field":"y","type":"quantitative","scale":{"domain":[0,103.85],"nice":false},"axis":null}}}
     ]},
    {"width":240,"height":94,
     "layer":[
      {"data":{"name":"one"},"mark":{"type":"rule","color":"#e6e6e6","strokeWidth":1},"encoding":{"y":{"datum":0,"type":"quantitative","scale":{"domain":[-6,6],"nice":false},"axis":null}}},
      {"data":{"name":"one"},"mark":{"type":"rule","color":"#ff2a2a","strokeWidth":1.1,"strokeDash":[2,1.5]},"encoding":{"y":{"datum":3.45,"type":"quantitative","scale":{"domain":[-6,6],"nice":false},"axis":null}}},
      {"data":{"name":"one"},"mark":{"type":"rule","color":"#ff2a2a","strokeWidth":1.1,"strokeDash":[2,1.5]},"encoding":{"y":{"datum":-3.45,"type":"quantitative","scale":{"domain":[-6,6],"nice":false},"axis":null}}},
      {"data":{"name":"one"},"mark":{"type":"rule","color":"#555","strokeWidth":0.8,"strokeDash":[1.5,1.5]},"encoding":{"x":{"datum":62,"type":"quantitative","scale":{"domain":[0,100],"nice":false},"axis":null}}},
      {"data":{"name":"snpm"},"transform":[{"filter":"datum.m==='Soleus'"}],"mark":{"type":"line","color":"#111","strokeWidth":2.2,"interpolate":"monotone"},
       "encoding":{"x":{"field":"x","type":"quantitative","scale":{"domain":[0,100],"nice":false},"axis":null},"y":{"field":"t","type":"quantitative","scale":{"domain":[-6,6],"nice":false},"axis":null}}}
     ]},
    {"width":240,"height":95,"resolve":{"axis":{"x":"independent"}},"title":{"text":"% of gait cycle","orient":"bottom","fontSize":17,"offset":8,"frame":"group","anchor":"middle","dx":-10},
     "layer":[
      {"data":{"name":"es"},"transform":[{"filter":"datum.m==='Soleus'&&datum.s===1"}],"mark":{"type":"area","color":"#ff8080","interpolate":"monotone"},
       "encoding":{"x":{"field":"x","type":"quantitative","scale":{"domain":[0,100],"nice":false},"axis":null},"y":{"field":"e","type":"quantitative","scale":{"domain":[0,1.6],"nice":false},"axis":null}}},
      {"data":{"name":"one"},"mark":{"type":"rule","color":"#000","strokeWidth":2,"strokeDash":[7,4]},"encoding":{"y":{"datum":0.8,"type":"quantitative","scale":{"domain":[0,1.6],"nice":false},"axis":null}}},
      {"data":{"name":"one"},"mark":{"type":"rule","color":"#000","strokeWidth":2,"strokeDash":[2,2.5]},"encoding":{"y":{"datum":0.5,"type":"quantitative","scale":{"domain":[0,1.6],"nice":false},"axis":null}}},
      {"data":{"name":"one"},"mark":{"type":"rule","color":"#555","strokeWidth":0.8,"strokeDash":[1.5,1.5]},"encoding":{"x":{"datum":62,"type":"quantitative","scale":{"domain":[0,100],"nice":false},"axis":null}}},
      {"data":{"name":"es"},"transform":[{"filter":"datum.m==='Soleus'"}],"mark":{"type":"line","color":"#111","strokeWidth":2.2,"interpolate":"monotone"},
       "encoding":{"x":{"field":"x","type":"quantitative","scale":{"domain":[0,100],"nice":false},"axis":{"values":[0,50,100],"labelFlush":true,"labelPadding":7,"title":null}},"y":{"field":"e","type":"quantitative","scale":{"domain":[0,1.6],"nice":false},"axis":null}}}
     ]}
 ]}
]},
{"spacing":0,"hconcat":[
 {"width":68,"height":1,"view":{"fill":"transparent","stroke":"transparent"},"mark":{"type":"point","opacity":0}},
 {"width":502,"height":51,"view":{"fill":"#f6f6f6","stroke":"#333","strokeWidth":1.5},
  "data":{"name":"legend"},
  "layer":[
   {"mark":{"type":"text","align":"right","baseline":"middle","fontSize":20.5,"color":"#111"},
    "encoding":{"x":{"field":"s","type":"nominal","bandPosition":0.31,"scale":{"type":"band","domain":["Shoe","Orthotics"],"range":[-12,514],"paddingInner":0,"paddingOuter":0},"axis":null},"text":{"field":"s"}}},
   {"mark":{"type":"point","shape":"stroke","size":2916,"strokeWidth":3,"filled":false,"opacity":1},
    "encoding":{"x":{"field":"s","type":"nominal","bandPosition":0.5285,"scale":{"type":"band","domain":["Shoe","Orthotics"],"range":[-12,514],"paddingInner":0,"paddingOuter":0},"axis":null},"stroke":{"field":"s","type":"nominal","scale":{"domain":["Shoe","Orthotics"],"range":["#000000","#0a1fcc"]},"legend":null}}}
  ]}
]}
]
}
